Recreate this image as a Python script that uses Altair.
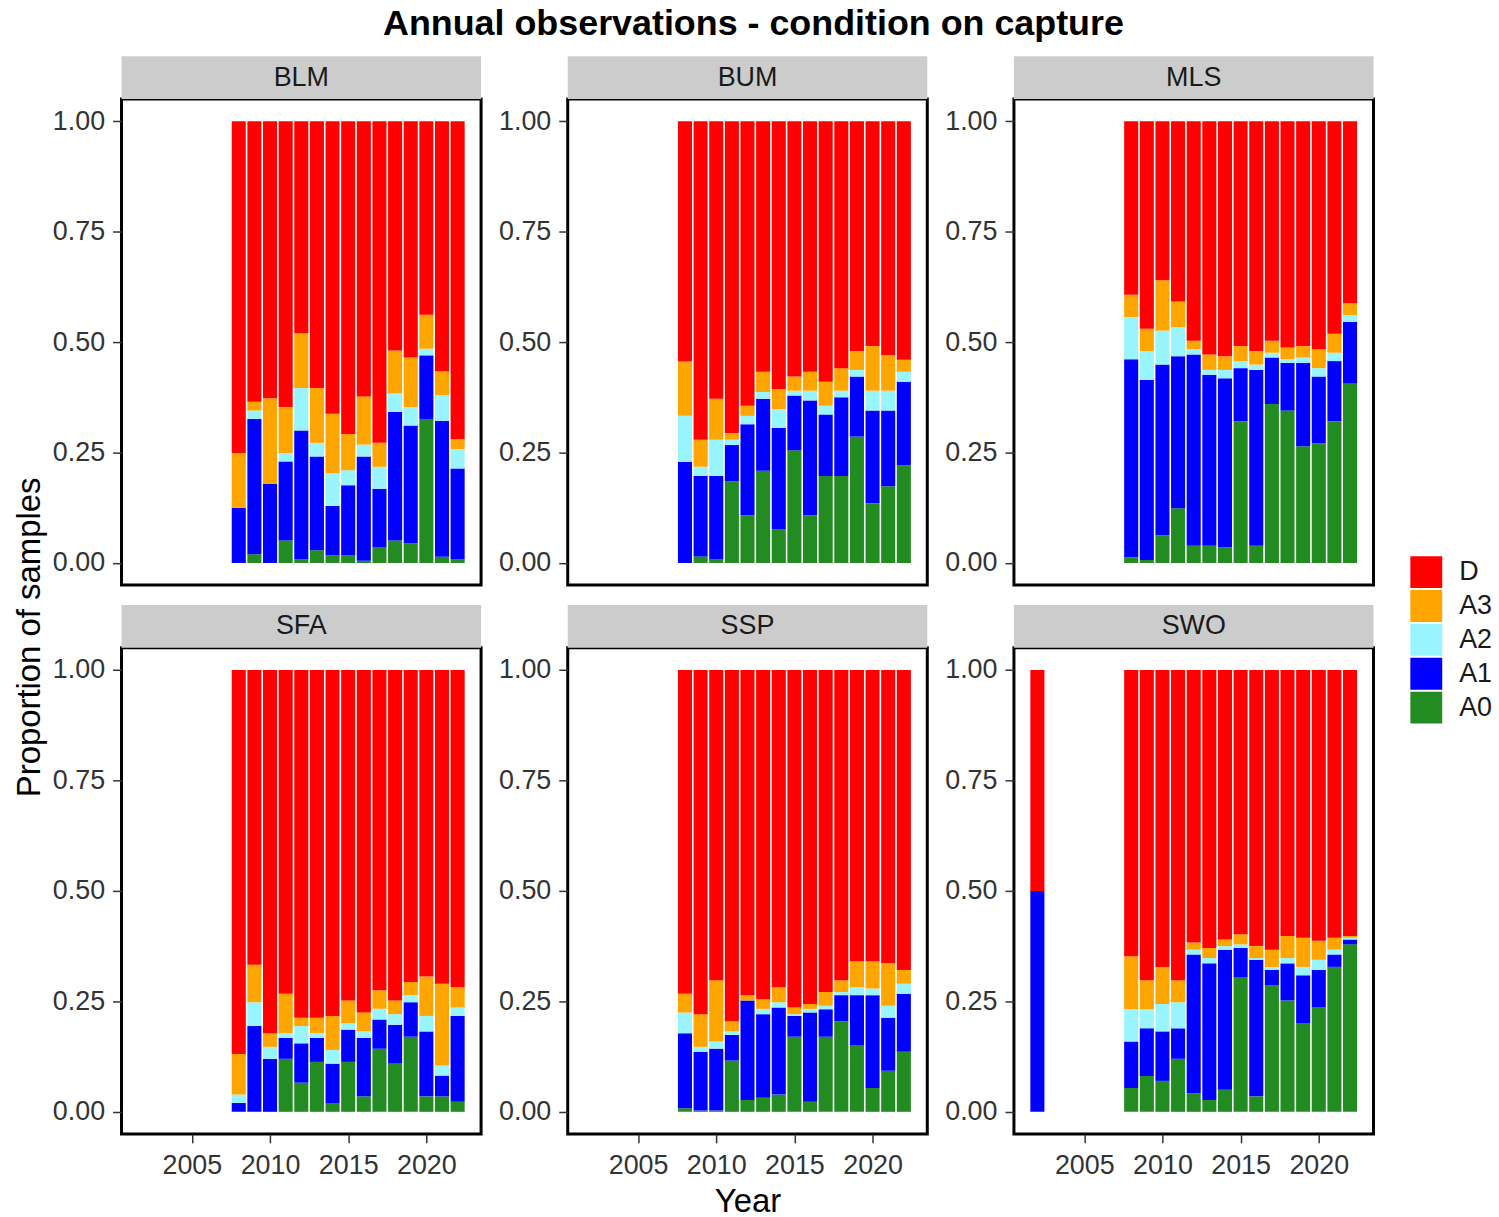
import altair as alt
import pandas as pd

# ---- data -------------------------------------------------------------
YEARS = list(range(2008, 2023))
SWO_YEARS = [2002] + YEARS

SPECIES = ["BLM", "BUM", "MLS", "SFA", "SSP", "SWO"]
STACK_ORDER = ["A0", "A1", "A2", "A3", "D"]          # bottom -> top
LEGEND_ORDER = ["D", "A3", "A2", "A1", "A0"]
LEGEND_COLORS = ["#FF0000", "#FFA500", "#98F5FF", "#0000FF", "#228B22"]

Y_TICKS = [0, 0.25, 0.5, 0.75, 1.0]
X_TICKS = [2005, 2010, 2015, 2020]

BLM = {
    "A0": [0, .020, 0, .051, .009, .029, .017, .017, .005, .036, .051, .044, .326, .014, .009],
    "A1": [.125, .306, .179, .179, .291, .212, .112, .159, .236, .132, .291, .267, .144, .308, .205],
    "A2": [0, .019, 0, .019, .096, .031, .074, .034, .027, .050, .042, .042, .015, .058, .044],
    "A3": [.124, .020, .194, .104, .124, .124, .135, .082, .109, .054, .097, .112, .077, .054, .022],
    "D":  [.751, .635, .627, .647, .480, .604, .662, .708, .623, .728, .519, .535, .438, .566, .720],
}
BUM = {
    "A0": [0, .015, .008, .185, .108, .209, .077, .255, .108, .197, .197, .286, .135, .174, .221],
    "A1": [.229, .182, .189, .082, .206, .163, .229, .124, .260, .139, .178, .136, .210, .171, .189],
    "A2": [.104, .021, .082, .012, .019, .015, .042, .011, .022, .020, .015, .015, .045, .045, .023],
    "A3": [.123, .061, .093, .015, .023, .046, .046, .032, .043, .054, .051, .043, .101, .081, .027],
    "D":  [.544, .721, .628, .706, .644, .567, .606, .578, .567, .590, .559, .520, .509, .529, .540],
}
MLS = {
    "A0": [.013, .007, .062, .124, .039, .039, .035, .321, .039, .360, .345, .264, .271, .321, .406],
    "A1": [.448, .407, .387, .344, .433, .387, .383, .120, .398, .105, .108, .189, .151, .136, .140],
    "A2": [.096, .066, .077, .066, .012, .011, .019, .016, .012, .011, .008, .012, .019, .019, .015],
    "A3": [.050, .050, .114, .058, .019, .035, .031, .034, .031, .027, .027, .026, .043, .043, .027],
    "D":  [.393, .470, .360, .408, .497, .528, .532, .509, .520, .497, .512, .509, .516, .481, .412],
}
SFA = {
    "A0": [0, 0, 0, .120, .066, .113, .020, .113, .035, .143, .109, .170, .035, .035, .023],
    "A1": [.020, .194, .120, .047, .089, .054, .089, .073, .132, .066, .088, .078, .147, .047, .194],
    "A2": [.019, .054, .027, .011, .039, .011, .031, .015, .015, .024, .024, .016, .035, .023, .019],
    "A3": [.092, .085, .031, .089, .019, .035, .077, .051, .043, .042, .031, .030, .089, .185, .046],
    "D":  [.869, .667, .822, .733, .787, .787, .783, .748, .775, .725, .748, .706, .694, .710, .718],
}
SSP = {
    "A0": [.008, .003, .003, .116, .027, .032, .039, .170, .023, .170, .205, .151, .054, .093, .136],
    "A1": [.170, .133, .140, .058, .225, .189, .197, .047, .202, .062, .059, .113, .210, .120, .131],
    "A2": [.047, .011, .016, .008, 0, .012, .012, .004, .008, .008, .007, .018, .015, .027, .023],
    "A3": [.042, .074, .139, .023, .012, .022, .034, .015, .011, .031, .027, .059, .062, .097, .031],
    "D":  [.733, .779, .702, .795, .736, .745, .718, .764, .756, .729, .702, .659, .659, .663, .679],
}
SWO = {
    "A0": [0, .054, .081, .070, .120, .042, .027, .050, .305, .035, .286, .252, .201, .236, .328, .379],
    "A1": [.5, .105, .108, .112, .069, .314, .309, .317, .066, .309, .035, .084, .108, .085, .028, .011],
    "A2": [0, .073, .043, .062, .059, .011, .012, .008, .008, .004, .007, .012, .019, .023, .011, .004],
    "A3": [0, .120, .066, .084, .050, .016, .023, .015, .023, .027, .039, .050, .066, .043, .027, .004],
    "D":  [.5, .648, .702, .672, .702, .617, .629, .610, .598, .625, .633, .602, .606, .613, .606, .602],
}

SERIES = {
    "BLM": (YEARS, BLM),
    "BUM": (YEARS, BUM),
    "MLS": (YEARS, MLS),
    "SFA": (YEARS, SFA),
    "SSP": (YEARS, SSP),
    "SWO": (SWO_YEARS, SWO),
}

records = []
for sp, (years, table) in SERIES.items():
    for k, cond in enumerate(STACK_ORDER):
        for yr, v in zip(years, table[cond]):
            records.append({"Species": sp, "Year": yr, "Condition": cond,
                            "Order": k, "Proportion": v})
df = pd.DataFrame(records)

# ---- styling ------------------------------------------------------------
FONT = "Liberation Sans"
W, H = 361, 488
STRIP_H = 43
TEXT_DARK = "#1A1A1A"
AXIS_GREY = "#333333"
TICK_FONT = 27


def panel(sp, bottom_row, x_title=None):
    if bottom_row:
        x_axis = alt.Axis(values=X_TICKS, format="d", title=x_title,
                          labelFontSize=TICK_FONT, labelColor=AXIS_GREY, labelPadding=10,
                          tickSize=9, tickWidth=1.5, tickColor=AXIS_GREY,
                          titleFontSize=33, titleFontWeight="normal",
                          titleColor="black", titlePadding=7, titleFont=FONT)
    else:
        x_axis = None

    bars = (
        alt.Chart(df)
        .transform_filter(alt.datum.Species == sp)
        .transform_stack(stack="Proportion", groupby=["Year"],
                         sort=[alt.SortField("Order", order="ascending")],
                         as_=["y0", "y1"])
        .transform_calculate(x0="datum.Year - 0.45", x1="datum.Year + 0.45")
        .mark_bar()
        .encode(
            x=alt.X("x0:Q", scale=alt.Scale(domain=[2000.5, 2023.5], nice=False, zero=False),
                    axis=x_axis),
            x2="x1:Q",
            y=alt.Y("y0:Q", scale=alt.Scale(domain=[-0.05, 1.05], nice=False, zero=False),
                    axis=alt.Axis(values=Y_TICKS, format=".2f", title=None,
                                  labelFontSize=TICK_FONT, labelColor=AXIS_GREY, labelPadding=8,
                                  tickSize=9, tickWidth=1.5, tickColor=AXIS_GREY)),
            y2="y1:Q",
            color=alt.Color("Condition:N",
                            scale=alt.Scale(domain=LEGEND_ORDER, range=LEGEND_COLORS),
                            legend=alt.Legend(title=None, orient="none",
                                              legendX=1294, legendY=459,
                                              symbolType="square", symbolSize=1024,
                                              symbolStrokeWidth=0, labelFontSize=TICK_FONT,
                                              labelFont=FONT, labelColor=TEXT_DARK,
                                              labelOffset=17, rowPadding=2)),
        )
    )
    name_df = pd.DataFrame({"Species": [sp]})
    strip = alt.Chart(name_df).mark_rect(color="#CCCCCC").encode(
        x=alt.value(0), x2=alt.value(W), y=alt.value(-STRIP_H), y2=alt.value(0)
    )
    label = alt.Chart(name_df).mark_text(
        fontSize=TICK_FONT, font=FONT, color=TEXT_DARK, baseline="middle", align="center"
    ).encode(x=alt.value(W / 2), y=alt.value(-STRIP_H / 2), text="Species:N")
    return alt.layer(strip, label, bars).properties(width=W, height=H)


row1 = alt.hconcat(panel("BLM", False), panel("BUM", False), panel("MLS", False), spacing=13)
row2 = alt.hconcat(panel("SFA", True), panel("SSP", True, "Year"), panel("SWO", True), spacing=13)

grid = alt.vconcat(
    row1, row2, spacing=16,
    title=alt.TitleParams("Proportion of samples", orient="left", anchor="middle",
                          fontSize=33, fontWeight="normal", font=FONT, color="black",
                          offset=4),
)

chart = (
    alt.vconcat(grid)
    .properties(
        title=alt.TitleParams("Annual observations - condition on capture",
                              fontSize=36, fontWeight="bold", font=FONT, color="black",
                              anchor="middle", offset=12),
        padding={"left": 13, "top": 3, "right": 6, "bottom": 0},
    )
    .configure(font=FONT)
    .configure_view(stroke="black", strokeWidth=3)
    .configure_axis(grid=False, domain=False, labelFont=FONT, titleFont=FONT)
)

chart.save("out.html", embed_options={"renderer": "svg", "actions": False})
